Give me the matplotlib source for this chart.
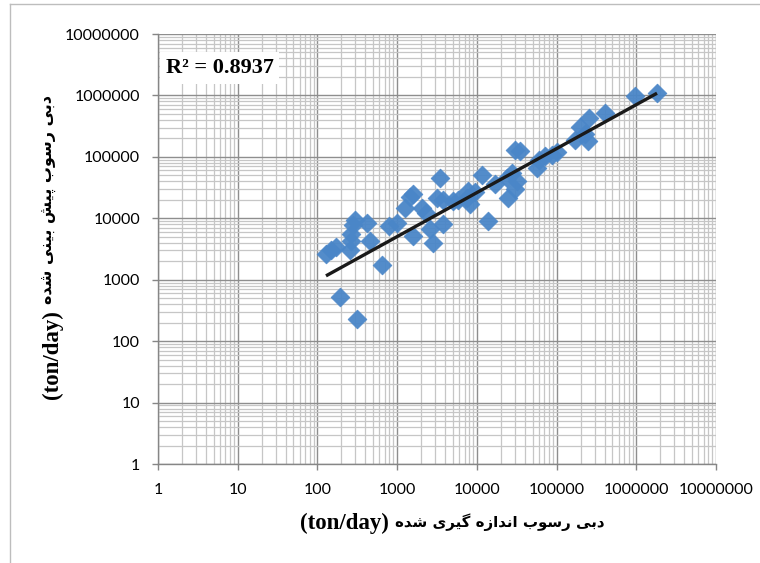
import numpy as np
import matplotlib
matplotlib.use("Agg")
import matplotlib.pyplot as plt
from matplotlib.ticker import LogLocator, NullFormatter, FixedLocator
from matplotlib.lines import Line2D

# ---------------- data ----------------
measured = [128, 150, 172, 192, 311, 256, 262, 265, 282, 300, 415, 460, 645, 780, 990,
            1260, 1450, 1600, 1590, 2040, 2300, 2570, 2830, 3150, 3460, 3780, 3780,
            5000, 5860, 7500, 7800, 8200, 9500, 11500, 13900, 16900, 23600, 24800,
            27400, 30000, 31700, 30000, 34800, 56300, 60000, 71600, 100000, 87000,
            170000, 197000, 228000, 251000, 258000, 405000, 950000, 1820000]
predicted = [2600, 3000, 3400, 530, 230, 3100, 4300, 5500, 7900, 9400, 8400, 4300, 1750, 7400, 8400,
             14800, 22000, 25000, 5100, 14800, 12000, 6600, 4000, 21000, 46000, 8000, 20000,
             19000, 19500, 21500, 27600, 17000, 27000, 51000, 9000, 35500, 46000, 21000,
             55000, 29500, 40000, 131000, 123000, 66000, 90000, 102000, 120000, 109000,
             190000, 310000, 235000, 178000, 437000, 513000, 980000, 1080000]

# power trendline shown in the reference: predicted = trend_a * measured ** trend_b
trend_a = 35.8
trend_b = 0.716

tick_values = [1, 10, 100, 1000, 10000, 100000, 1000000, 10000000]
tick_labels = ["1", "10", "100", "1000", "10000", "100000", "1000000", "10000000"]
r2_text = "R\u00b2 = 0.8937"
unit_text = "(ton/day)"
xlabel_fa = "دبی رسوب اندازه گیری شده"
ylabel_fa = "دبی رسوب پیش بینی شده"

# ---------------- Persian shaping (presentation forms) ----------------
FORMS = {  # iso, fin, ini, med
    "ب": ("\uFE8F", "\uFE90", "\uFE91", "\uFE92"),
    "پ": ("\uFB56", "\uFB57", "\uFB58", "\uFB59"),
    "ی": ("\uFBFC", "\uFBFD", "\uFBFE", "\uFBFF"),
    "س": ("\uFEB1", "\uFEB2", "\uFEB3", "\uFEB4"),
    "ش": ("\uFEB5", "\uFEB6", "\uFEB7", "\uFEB8"),
    "ن": ("\uFEE5", "\uFEE6", "\uFEE7", "\uFEE8"),
    "ه": ("\uFEE9", "\uFEEA", "\uFEEB", "\uFEEC"),
    "گ": ("\uFB92", "\uFB93", "\uFB94", "\uFB95"),
    "د": ("\uFEA9", "\uFEAA", None, None),
    "ر": ("\uFEAD", "\uFEAE", None, None),
    "ز": ("\uFEAF", "\uFEB0", None, None),
    "و": ("\uFEED", "\uFEEE", None, None),
    "ا": ("\uFE8D", "\uFE8E", None, None),
}


def shape_visual(text):
    out = []
    n = len(text)
    for i, ch in enumerate(text):
        if ch not in FORMS:
            out.append(ch)
            continue
        iso, fin, ini, med = FORMS[ch]
        prev = text[i - 1] if i > 0 else None
        nxt = text[i + 1] if i + 1 < n else None
        jp = prev in FORMS and FORMS[prev][2] is not None
        jn = ini is not None and nxt in FORMS
        if jp and jn:
            out.append(med)
        elif jp:
            out.append(fin)
        elif jn:
            out.append(ini)
        else:
            out.append(iso)
    return "".join(out[::-1])


xlabel_vis = shape_visual(xlabel_fa)
ylabel_vis = shape_visual(ylabel_fa)

tick_font = "Lato"

# ---------------- figure ----------------
W, H = 760, 563
fig = plt.figure(figsize=(W / 100, H / 100), dpi=100)
fig.patch.set_facecolor("white")
L, R, T, B = 158, 716, 34, 464
ax = fig.add_axes([L / W, 1 - B / H, (R - L) / W, (B - T) / H])
ax.set_xscale("log")
ax.set_yscale("log")
ax.set_xlim(1, 1e7)
ax.set_ylim(1, 1e7)

for axis in (ax.xaxis, ax.yaxis):
    axis.set_major_locator(FixedLocator(tick_values))
    axis.set_minor_locator(LogLocator(base=10, subs=np.arange(2, 10), numticks=30))
    axis.set_minor_formatter(NullFormatter())
ax.set_xticklabels(tick_labels)
ax.set_yticklabels(tick_labels)

ax.grid(which="major", color="#8e8e8e", linewidth=1.0)
ax.grid(which="minor", color="#c6c6c6", linewidth=0.9)
ax.set_axisbelow(True)

for s in ("top", "right"):
    ax.spines[s].set_visible(False)
for s in ("left", "bottom"):
    ax.spines[s].set_color("#868686")
    ax.spines[s].set_linewidth(1.0)

ax.tick_params(which="major", direction="out", length=4, color="#868686", width=1,
               labelsize=11.5, labelcolor="#000000")
ax.tick_params(axis="x", which="major", pad=10)
ax.tick_params(axis="y", which="major", pad=9)
ax.tick_params(which="minor", length=0)
for lab in ax.get_xticklabels() + ax.get_yticklabels():
    lab.set_fontfamily(tick_font)

# scatter
ax.scatter(measured, predicted, marker="D", s=92, color="#4a86c8",
           edgecolors="#4a86c8", linewidths=0.5, alpha=0.95, zorder=3)

# power trendline
xs = np.array([min(measured), max(measured)], dtype=float)
ax.plot(xs, trend_a * xs ** trend_b, color="#1a1a1a", linewidth=2.4,
        solid_capstyle="butt", zorder=4)

# R^2 box
ax.text(0.014, 0.921, r2_text, transform=ax.transAxes, fontsize=16,
        fontweight="bold", family="Liberation Serif", ha="left", va="center",
        bbox=dict(facecolor="white", edgecolor="none", pad=4), zorder=5)

# axis titles (Latin unit part + Persian part)
fig.text(389 / W, 1 - 523 / H, unit_text, ha="right", va="center", fontsize=16.5,
         fontweight="bold", family="Liberation Serif")
fig.text(395 / W, 1 - 522 / H, xlabel_vis, ha="left", va="center", fontsize=10.8,
         fontweight="bold", family="DejaVu Sans")
fig.text(52 / W, 1 - 310 / H, unit_text, ha="center", va="top", rotation=90,
         fontsize=16.5, fontweight="bold", family="Liberation Serif")
fig.text(50 / W, 1 - 304 / H, ylabel_vis, ha="center", va="bottom", rotation=90,
         fontsize=11.5, fontweight="bold", family="DejaVu Sans")

# chart-area border
fig.add_artist(Line2D([10 / W, 10 / W], [0, 1 - 4 / H], color="#bdbdbd", linewidth=1.0,
                      transform=fig.transFigure))
fig.add_artist(Line2D([10 / W, 1], [1 - 4 / H, 1 - 4 / H], color="#bdbdbd", linewidth=1.0,
                      transform=fig.transFigure))

fig.savefig("out.png", dpi=100)
